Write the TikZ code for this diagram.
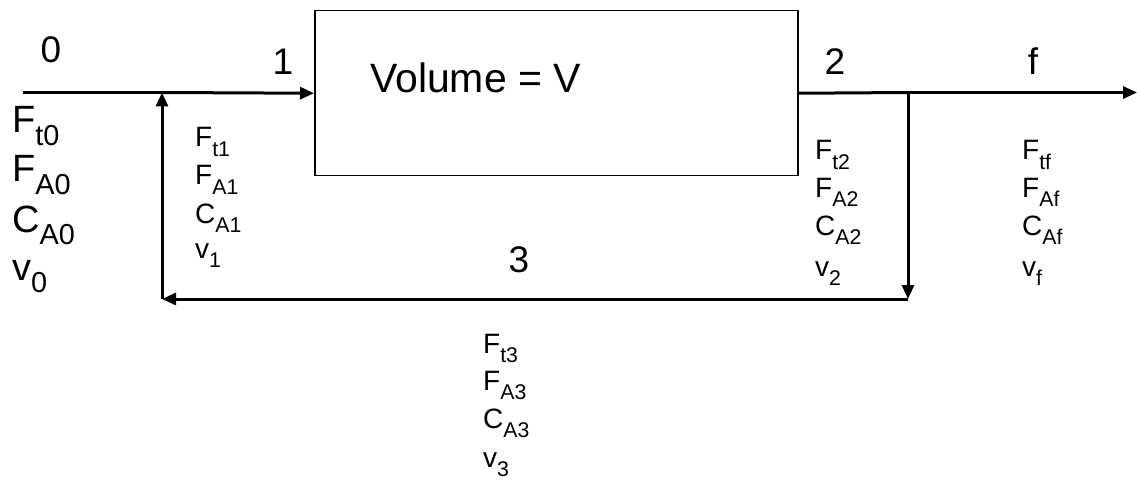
\documentclass[tikz,border=0pt]{standalone}
\usepackage{fontspec}
\setmainfont{Liberation Sans}
\usetikzlibrary{arrows.meta}
\newcommand\lowsub[1]{\raisebox{-0.34em}{\scalebox{0.76}{#1}}}
\begin{document}
\begin{tikzpicture}[x=1pt,y=-1pt,
  flow/.style={line width=3pt,-{Triangle[length=14pt,width=12pt]}},
  pipe/.style={line width=3pt},
  num/.style={inner sep=0pt,anchor=base,font=\fontsize{37}{42}\selectfont},
  biglbl/.style={inner sep=0pt,anchor=base west,font=\fontsize{38}{44}\selectfont},
  medlbl/.style={inner sep=0pt,anchor=base west,font=\fontsize{28}{32}\selectfont}]
\useasboundingbox (0,0) rectangle (1137,481);
% reactor
\node[draw,line width=1.5pt,inner sep=0pt,minimum width=483pt,minimum height=165pt,anchor=north west] (box) at (314,10) {};
\node[inner sep=0pt,anchor=base west,font=\fontsize{41}{48}\selectfont] (vol) at (370,93) {Volume = V};
% points
\coordinate (in0) at (23,92.5);
\coordinate (mix) at (162,92.5);
\coordinate (spl) at (908,92.5);
\coordinate (out) at (1137,92.5);
\coordinate (splb) at (908,299);
\coordinate (mixb) at (162,299);
% streams
\draw[pipe] (in0) -- (mix);
\draw[flow] (mix) -- (box.west);
\draw[pipe] (box.east) -- (spl);
\draw[flow] (spl) -- (out);
\draw[flow] (spl) -- (splb);
\draw[flow] (splb) -- (mixb);
\draw[flow] (mixb) -- (mix);
% stream numbers
\node[num] (n0) at (51,63) {0};
\node[num] (n1) at (283,75) {1};
\node[num] (n2) at (835,75) {2};
\node[num] (nf) at (1033,75) {f};
\node[num] (n3) at (519,272) {3};
% stream 0
\node[biglbl] (a0) at (12,133) {F\lowsub{t0}};
\node[biglbl] (b0) at (12,182) {F\lowsub{A0}};
\node[biglbl] (c0) at (12,232) {C\lowsub{A0}};
\node[biglbl] (d0) at (12,280) {v\lowsub{0}};
% stream 1
\node[medlbl] (a1) at (195,147) {F\lowsub{t1}};
\node[medlbl] (b1) at (195,185) {F\lowsub{A1}};
\node[medlbl] (c1) at (195,223) {C\lowsub{A1}};
\node[medlbl] (d1) at (195,258) {v\lowsub{1}};
% stream 2
\node[medlbl] (a2) at (815,160) {F\lowsub{t2}};
\node[medlbl] (b2) at (815,197) {F\lowsub{A2}};
\node[medlbl] (c2) at (815,235) {C\lowsub{A2}};
\node[medlbl] (d2) at (815,276) {v\lowsub{2}};
% stream f
\node[medlbl] (af) at (1022,160) {F\lowsub{tf}};
\node[medlbl] (bf) at (1022,197) {F\lowsub{Af}};
\node[medlbl] (cf) at (1022,235) {C\lowsub{Af}};
\node[medlbl] (df) at (1022,276) {v\lowsub{f}};
% stream 3
\node[medlbl] (a3) at (483,353) {F\lowsub{t3}};
\node[medlbl] (b3) at (483,390) {F\lowsub{A3}};
\node[medlbl] (c3) at (483,428) {C\lowsub{A3}};
\node[medlbl] (d3) at (483,467) {v\lowsub{3}};
\end{tikzpicture}
\end{document}
